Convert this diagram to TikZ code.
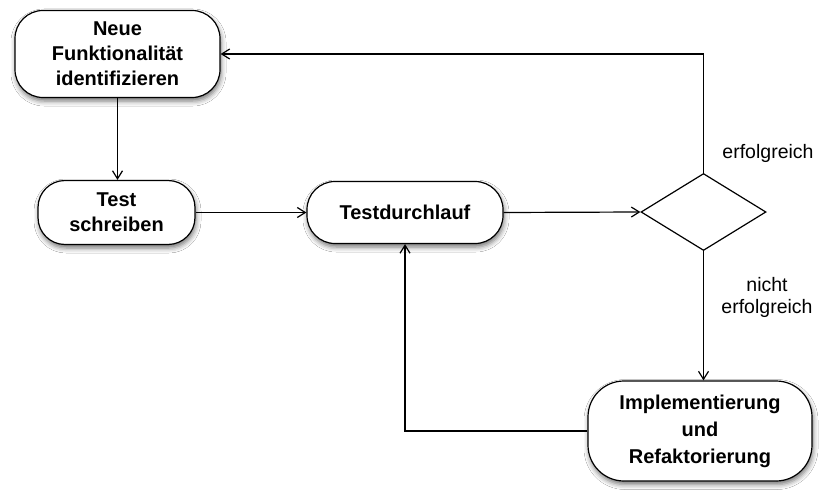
\documentclass[tikz,border=0pt]{standalone}
\usepackage{fontspec}
\setmainfont{Liberation Sans}
\usetikzlibrary{shapes.geometric, arrows.meta, shadows.blur}

\begin{document}
\begin{tikzpicture}[x=1pt, y=-1pt]
%Declaration of styles
	\tikzstyle{stepbox} = [rectangle, rounded corners=28pt, draw=black, line width=1.2pt, fill=white, align=center, font=\fontsize{20}{25}\selectfont\bfseries, blur shadow={shadow xshift=1pt, shadow yshift=-3.5pt, shadow blur radius=5pt, shadow opacity=55}] %style for the boxes
	\tikzstyle{check} = [diamond, draw=black, line width=1.2pt, fill=white, aspect=1.62, minimum width=125pt, minimum height=77pt, inner sep=0pt] %style for the decision
	\tikzstyle{arr} = [-{Straight Barb[length=8pt, width=10pt]}, line width=1.2pt] %style for the arrows
	\tikzstyle{lbl} = [font=\fontsize{19.5}{22}\selectfont, align=center] %style for the labels
%Canvas
	\fill [white] (0,0) rectangle (819,492);
	\useasboundingbox (0,0) rectangle (819,492);
%Nodes, the elements of the graphic
	\node [stepbox, minimum width=205pt, minimum height=87pt] (neu) at (117.5,54) {Neue\\Funktionalität\\identifizieren};
	\node [stepbox, minimum width=157pt, minimum height=64pt, rounded corners=27pt] (schreiben) at (116.5,212.5) {Test\\schreiben};
	\node [stepbox, minimum width=196pt, minimum height=62pt, rounded corners=28pt] (lauf) at (405,212.5) {Testdurchlauf};
	\node [check] (frage) at (703.5,212) {};
	\node [stepbox, minimum width=224pt, minimum height=100pt, rounded corners=36pt, font=\fontsize{20}{27}\selectfont\bfseries] (impl) at (700,431) {Implementierung\\und\\Refaktorierung};
	\node [lbl] (ok) at (768,153) {erfolgreich};
	\node [lbl] (nok) at (767,297) {nicht\\erfolgreich};
%Connectors
	\draw [arr] (neu.south) -- (neu.south |- schreiben.north);
	\draw [arr] (schreiben.east) -- (lauf.west);
	\draw [arr] (lauf.east) -- (frage.west);
	\draw [arr] (frage.north) |- (neu.east);
	\draw [arr] (frage.south) -- (frage.south |- impl.north);
	\draw [arr] (impl.west) -| (lauf.south);
\end{tikzpicture}
\end{document}
